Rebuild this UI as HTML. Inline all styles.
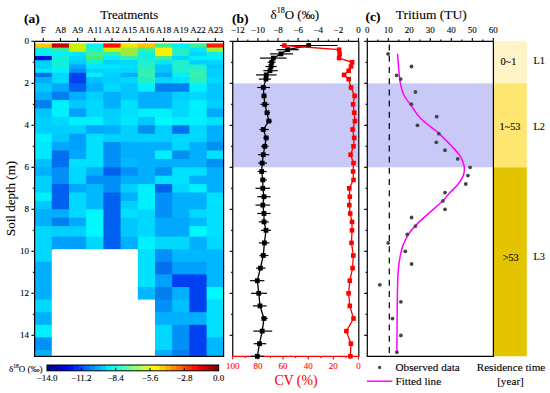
<!DOCTYPE html>
<html><head><meta charset="utf-8"><title>Figure</title>
<style>
html,body{margin:0;padding:0;background:#fff;}
body{width:550px;height:393px;overflow:hidden;font-family:"Liberation Serif",serif;}
svg{display:block;}
text{stroke-width:0.1px;stroke:#000;}
text[fill="#ff0000"]{stroke:#ff0000;}
</style></head>
<body>
<svg width="550" height="393" viewBox="0 0 550 393">
<rect x="0" y="0" width="550" height="393" fill="#fff"/>
<rect x="34.60" y="43.40" width="18.10" height="5.10" fill="#ffc800"/>
<rect x="34.60" y="47.60" width="18.10" height="5.10" fill="#10f0e0"/>
<rect x="34.60" y="51.80" width="18.10" height="5.10" fill="#00f0ff"/>
<rect x="34.60" y="56.00" width="18.10" height="5.10" fill="#0010e0"/>
<rect x="34.60" y="60.20" width="18.10" height="5.10" fill="#00d0ff"/>
<rect x="34.60" y="64.40" width="18.10" height="5.10" fill="#00d0ff"/>
<rect x="34.60" y="68.60" width="18.10" height="5.10" fill="#00e8ff"/>
<rect x="34.60" y="72.80" width="18.10" height="5.10" fill="#0070f0"/>
<rect x="34.60" y="77.00" width="18.10" height="7.20" fill="#00b0ff"/>
<rect x="34.60" y="83.30" width="18.10" height="9.30" fill="#00c8ff"/>
<rect x="34.60" y="91.70" width="18.10" height="9.30" fill="#00b0ff"/>
<rect x="34.60" y="100.10" width="18.10" height="9.30" fill="#0080f0"/>
<rect x="34.60" y="108.50" width="18.10" height="9.30" fill="#00c8ff"/>
<rect x="34.60" y="116.90" width="18.10" height="9.30" fill="#00d0ff"/>
<rect x="34.60" y="125.30" width="18.10" height="9.30" fill="#00d0ff"/>
<rect x="34.60" y="133.70" width="18.10" height="9.30" fill="#00f0ff"/>
<rect x="34.60" y="142.10" width="18.10" height="9.30" fill="#00e8ff"/>
<rect x="34.60" y="150.50" width="18.10" height="9.30" fill="#00e8ff"/>
<rect x="34.60" y="158.90" width="18.10" height="9.30" fill="#00c0ff"/>
<rect x="34.60" y="167.30" width="18.10" height="9.30" fill="#00b0ff"/>
<rect x="34.60" y="175.70" width="18.10" height="9.30" fill="#00d0ff"/>
<rect x="34.60" y="184.10" width="18.10" height="9.30" fill="#00d0ff"/>
<rect x="34.60" y="192.50" width="18.10" height="9.30" fill="#00f0ff"/>
<rect x="34.60" y="200.90" width="18.10" height="9.30" fill="#00c8ff"/>
<rect x="34.60" y="209.30" width="18.10" height="9.30" fill="#00b0ff"/>
<rect x="34.60" y="217.70" width="18.10" height="9.30" fill="#00b0ff"/>
<rect x="34.60" y="226.10" width="18.10" height="11.40" fill="#00d8ff"/>
<rect x="34.60" y="236.60" width="18.10" height="13.50" fill="#00d8ff"/>
<rect x="34.60" y="249.20" width="17.20" height="13.50" fill="#00d8ff"/>
<rect x="34.60" y="261.80" width="17.20" height="13.50" fill="#00b0ff"/>
<rect x="34.60" y="274.40" width="17.20" height="13.50" fill="#00b0ff"/>
<rect x="34.60" y="287.00" width="17.20" height="13.50" fill="#00b0ff"/>
<rect x="34.60" y="299.60" width="17.20" height="13.50" fill="#00d8ff"/>
<rect x="34.60" y="312.20" width="17.20" height="13.50" fill="#00b0ff"/>
<rect x="34.60" y="324.80" width="17.20" height="13.50" fill="#00f0ff"/>
<rect x="34.60" y="337.40" width="17.20" height="13.50" fill="#0090f8"/>
<rect x="34.60" y="350.00" width="17.20" height="5.88" fill="#00b0ff"/>
<rect x="51.80" y="43.40" width="18.10" height="5.10" fill="#c80000"/>
<rect x="51.80" y="47.60" width="18.10" height="5.10" fill="#30f0a0"/>
<rect x="51.80" y="51.80" width="18.10" height="5.10" fill="#00f0ff"/>
<rect x="51.80" y="56.00" width="18.10" height="5.10" fill="#10f0d8"/>
<rect x="51.80" y="60.20" width="18.10" height="5.10" fill="#10f0d8"/>
<rect x="51.80" y="64.40" width="18.10" height="5.10" fill="#10f0d8"/>
<rect x="51.80" y="68.60" width="18.10" height="5.10" fill="#00f0ff"/>
<rect x="51.80" y="72.80" width="18.10" height="5.10" fill="#00d8ff"/>
<rect x="51.80" y="77.00" width="18.10" height="7.20" fill="#00d8ff"/>
<rect x="51.80" y="83.30" width="18.10" height="9.30" fill="#00a8ff"/>
<rect x="51.80" y="91.70" width="18.10" height="9.30" fill="#0080f0"/>
<rect x="51.80" y="100.10" width="18.10" height="9.30" fill="#00f0ff"/>
<rect x="51.80" y="108.50" width="18.10" height="9.30" fill="#00f0ff"/>
<rect x="51.80" y="116.90" width="18.10" height="9.30" fill="#00d8ff"/>
<rect x="51.80" y="125.30" width="18.10" height="9.30" fill="#00d0ff"/>
<rect x="51.80" y="133.70" width="18.10" height="9.30" fill="#00c8ff"/>
<rect x="51.80" y="142.10" width="18.10" height="9.30" fill="#00a8ff"/>
<rect x="51.80" y="150.50" width="18.10" height="9.30" fill="#0070f0"/>
<rect x="51.80" y="158.90" width="18.10" height="9.30" fill="#0070f0"/>
<rect x="51.80" y="167.30" width="18.10" height="9.30" fill="#0090f8"/>
<rect x="51.80" y="175.70" width="18.10" height="9.30" fill="#0090f8"/>
<rect x="51.80" y="184.10" width="18.10" height="9.30" fill="#0060f0"/>
<rect x="51.80" y="192.50" width="18.10" height="9.30" fill="#0060f0"/>
<rect x="51.80" y="200.90" width="18.10" height="9.30" fill="#0060f0"/>
<rect x="51.80" y="209.30" width="18.10" height="9.30" fill="#00b0ff"/>
<rect x="51.80" y="217.70" width="18.10" height="9.30" fill="#0080f0"/>
<rect x="51.80" y="226.10" width="18.10" height="11.40" fill="#00d0ff"/>
<rect x="51.80" y="236.60" width="18.10" height="12.60" fill="#00a0ff"/>
<rect x="69.00" y="43.40" width="18.10" height="5.10" fill="#c8f000"/>
<rect x="69.00" y="47.60" width="18.10" height="5.10" fill="#c8f000"/>
<rect x="69.00" y="51.80" width="18.10" height="5.10" fill="#00e8ff"/>
<rect x="69.00" y="56.00" width="18.10" height="5.10" fill="#00d8ff"/>
<rect x="69.00" y="60.20" width="18.10" height="5.10" fill="#00d0ff"/>
<rect x="69.00" y="64.40" width="18.10" height="5.10" fill="#00a8ff"/>
<rect x="69.00" y="68.60" width="18.10" height="5.10" fill="#0090f8"/>
<rect x="69.00" y="72.80" width="18.10" height="5.10" fill="#0040f0"/>
<rect x="69.00" y="77.00" width="18.10" height="7.20" fill="#0040f0"/>
<rect x="69.00" y="83.30" width="18.10" height="9.30" fill="#0060f0"/>
<rect x="69.00" y="91.70" width="18.10" height="9.30" fill="#00b0ff"/>
<rect x="69.00" y="100.10" width="18.10" height="9.30" fill="#00c8ff"/>
<rect x="69.00" y="108.50" width="18.10" height="9.30" fill="#00a0ff"/>
<rect x="69.00" y="116.90" width="18.10" height="9.30" fill="#00f0ff"/>
<rect x="69.00" y="125.30" width="18.10" height="9.30" fill="#00d0ff"/>
<rect x="69.00" y="133.70" width="18.10" height="9.30" fill="#00a0ff"/>
<rect x="69.00" y="142.10" width="18.10" height="9.30" fill="#00a0ff"/>
<rect x="69.00" y="150.50" width="18.10" height="9.30" fill="#00a8ff"/>
<rect x="69.00" y="158.90" width="18.10" height="9.30" fill="#00e0ff"/>
<rect x="69.00" y="167.30" width="18.10" height="9.30" fill="#00d8ff"/>
<rect x="69.00" y="175.70" width="18.10" height="9.30" fill="#00d8ff"/>
<rect x="69.00" y="184.10" width="18.10" height="9.30" fill="#00a8ff"/>
<rect x="69.00" y="192.50" width="18.10" height="9.30" fill="#00d8ff"/>
<rect x="69.00" y="200.90" width="18.10" height="9.30" fill="#00d8ff"/>
<rect x="69.00" y="209.30" width="18.10" height="9.30" fill="#00d8ff"/>
<rect x="69.00" y="217.70" width="18.10" height="9.30" fill="#00a8ff"/>
<rect x="69.00" y="226.10" width="18.10" height="11.40" fill="#00d0ff"/>
<rect x="69.00" y="236.60" width="18.10" height="12.60" fill="#00a0ff"/>
<rect x="86.20" y="43.40" width="18.10" height="5.10" fill="#10f0f0"/>
<rect x="86.20" y="47.60" width="18.10" height="5.10" fill="#20f0d0"/>
<rect x="86.20" y="51.80" width="18.10" height="5.10" fill="#40f0a0"/>
<rect x="86.20" y="56.00" width="18.10" height="5.10" fill="#40f070"/>
<rect x="86.20" y="60.20" width="18.10" height="5.10" fill="#10f0d8"/>
<rect x="86.20" y="64.40" width="18.10" height="5.10" fill="#00e8ff"/>
<rect x="86.20" y="68.60" width="18.10" height="5.10" fill="#00d0ff"/>
<rect x="86.20" y="72.80" width="18.10" height="5.10" fill="#00f0ff"/>
<rect x="86.20" y="77.00" width="18.10" height="7.20" fill="#00c0ff"/>
<rect x="86.20" y="83.30" width="18.10" height="9.30" fill="#00b0ff"/>
<rect x="86.20" y="91.70" width="18.10" height="9.30" fill="#00d0ff"/>
<rect x="86.20" y="100.10" width="18.10" height="9.30" fill="#00d8ff"/>
<rect x="86.20" y="108.50" width="18.10" height="9.30" fill="#00d8ff"/>
<rect x="86.20" y="116.90" width="18.10" height="9.30" fill="#00f0ff"/>
<rect x="86.20" y="125.30" width="18.10" height="9.30" fill="#00a8ff"/>
<rect x="86.20" y="133.70" width="18.10" height="9.30" fill="#00e0ff"/>
<rect x="86.20" y="142.10" width="18.10" height="9.30" fill="#00e0ff"/>
<rect x="86.20" y="150.50" width="18.10" height="9.30" fill="#00e0ff"/>
<rect x="86.20" y="158.90" width="18.10" height="9.30" fill="#00e0ff"/>
<rect x="86.20" y="167.30" width="18.10" height="9.30" fill="#00b0ff"/>
<rect x="86.20" y="175.70" width="18.10" height="9.30" fill="#0090f8"/>
<rect x="86.20" y="184.10" width="18.10" height="9.30" fill="#00b8ff"/>
<rect x="86.20" y="192.50" width="18.10" height="9.30" fill="#00b8ff"/>
<rect x="86.20" y="200.90" width="18.10" height="9.30" fill="#00b8ff"/>
<rect x="86.20" y="209.30" width="18.10" height="9.30" fill="#00f8ff"/>
<rect x="86.20" y="217.70" width="18.10" height="9.30" fill="#00f8ff"/>
<rect x="86.20" y="226.10" width="18.10" height="11.40" fill="#00f8ff"/>
<rect x="86.20" y="236.60" width="18.10" height="12.60" fill="#00d8ff"/>
<rect x="103.40" y="43.40" width="18.10" height="5.10" fill="#ff1000"/>
<rect x="103.40" y="47.60" width="18.10" height="5.10" fill="#c8f000"/>
<rect x="103.40" y="51.80" width="18.10" height="5.10" fill="#30f0b0"/>
<rect x="103.40" y="56.00" width="18.10" height="5.10" fill="#00f0ff"/>
<rect x="103.40" y="60.20" width="18.10" height="5.10" fill="#00d0ff"/>
<rect x="103.40" y="64.40" width="18.10" height="5.10" fill="#00e8ff"/>
<rect x="103.40" y="68.60" width="18.10" height="5.10" fill="#00d8ff"/>
<rect x="103.40" y="72.80" width="18.10" height="5.10" fill="#00d0ff"/>
<rect x="103.40" y="77.00" width="18.10" height="7.20" fill="#00d0ff"/>
<rect x="103.40" y="83.30" width="18.10" height="9.30" fill="#00d8ff"/>
<rect x="103.40" y="91.70" width="18.10" height="9.30" fill="#00b0ff"/>
<rect x="103.40" y="100.10" width="18.10" height="9.30" fill="#00b0ff"/>
<rect x="103.40" y="108.50" width="18.10" height="9.30" fill="#00d0ff"/>
<rect x="103.40" y="116.90" width="18.10" height="9.30" fill="#00d0ff"/>
<rect x="103.40" y="125.30" width="18.10" height="9.30" fill="#00b0ff"/>
<rect x="103.40" y="133.70" width="18.10" height="9.30" fill="#00d0ff"/>
<rect x="103.40" y="142.10" width="18.10" height="9.30" fill="#0090f8"/>
<rect x="103.40" y="150.50" width="18.10" height="9.30" fill="#0090f8"/>
<rect x="103.40" y="158.90" width="18.10" height="9.30" fill="#0090f8"/>
<rect x="103.40" y="167.30" width="18.10" height="9.30" fill="#0060f0"/>
<rect x="103.40" y="175.70" width="18.10" height="9.30" fill="#0090f8"/>
<rect x="103.40" y="184.10" width="18.10" height="9.30" fill="#0090f8"/>
<rect x="103.40" y="192.50" width="18.10" height="9.30" fill="#0060f0"/>
<rect x="103.40" y="200.90" width="18.10" height="9.30" fill="#0060f0"/>
<rect x="103.40" y="209.30" width="18.10" height="9.30" fill="#0060f0"/>
<rect x="103.40" y="217.70" width="18.10" height="9.30" fill="#0060f0"/>
<rect x="103.40" y="226.10" width="18.10" height="11.40" fill="#0060f0"/>
<rect x="103.40" y="236.60" width="18.10" height="12.60" fill="#0060f0"/>
<rect x="120.60" y="43.40" width="18.10" height="5.10" fill="#f0e800"/>
<rect x="120.60" y="47.60" width="18.10" height="5.10" fill="#a0e840"/>
<rect x="120.60" y="51.80" width="18.10" height="5.10" fill="#a0e840"/>
<rect x="120.60" y="56.00" width="18.10" height="5.10" fill="#30f0b0"/>
<rect x="120.60" y="60.20" width="18.10" height="5.10" fill="#00d8ff"/>
<rect x="120.60" y="64.40" width="18.10" height="5.10" fill="#00e0ff"/>
<rect x="120.60" y="68.60" width="18.10" height="5.10" fill="#00d8ff"/>
<rect x="120.60" y="72.80" width="18.10" height="5.10" fill="#00b0ff"/>
<rect x="120.60" y="77.00" width="18.10" height="7.20" fill="#00d8ff"/>
<rect x="120.60" y="83.30" width="18.10" height="9.30" fill="#00c8ff"/>
<rect x="120.60" y="91.70" width="18.10" height="9.30" fill="#00c8ff"/>
<rect x="120.60" y="100.10" width="18.10" height="9.30" fill="#00e0ff"/>
<rect x="120.60" y="108.50" width="18.10" height="9.30" fill="#00e0ff"/>
<rect x="120.60" y="116.90" width="18.10" height="9.30" fill="#00e8ff"/>
<rect x="120.60" y="125.30" width="18.10" height="9.30" fill="#00d0ff"/>
<rect x="120.60" y="133.70" width="18.10" height="9.30" fill="#00d0ff"/>
<rect x="120.60" y="142.10" width="18.10" height="9.30" fill="#00b0ff"/>
<rect x="120.60" y="150.50" width="18.10" height="9.30" fill="#00b0ff"/>
<rect x="120.60" y="158.90" width="18.10" height="9.30" fill="#00b8ff"/>
<rect x="120.60" y="167.30" width="18.10" height="9.30" fill="#0090f8"/>
<rect x="120.60" y="175.70" width="18.10" height="9.30" fill="#00b0ff"/>
<rect x="120.60" y="184.10" width="18.10" height="9.30" fill="#00d0ff"/>
<rect x="120.60" y="192.50" width="18.10" height="9.30" fill="#00b0ff"/>
<rect x="120.60" y="200.90" width="18.10" height="9.30" fill="#00d0ff"/>
<rect x="120.60" y="209.30" width="18.10" height="9.30" fill="#00e0ff"/>
<rect x="120.60" y="217.70" width="18.10" height="9.30" fill="#00c8ff"/>
<rect x="120.60" y="226.10" width="18.10" height="11.40" fill="#00c8ff"/>
<rect x="120.60" y="236.60" width="18.10" height="12.60" fill="#00b0ff"/>
<rect x="137.80" y="43.40" width="18.10" height="5.10" fill="#ffc000"/>
<rect x="137.80" y="47.60" width="18.10" height="5.10" fill="#40f090"/>
<rect x="137.80" y="51.80" width="18.10" height="5.10" fill="#10f0e0"/>
<rect x="137.80" y="56.00" width="18.10" height="5.10" fill="#10f0e0"/>
<rect x="137.80" y="60.20" width="18.10" height="5.10" fill="#20f0d0"/>
<rect x="137.80" y="64.40" width="18.10" height="5.10" fill="#28f0c0"/>
<rect x="137.80" y="68.60" width="18.10" height="5.10" fill="#30f0b8"/>
<rect x="137.80" y="72.80" width="18.10" height="5.10" fill="#38f0a8"/>
<rect x="137.80" y="77.00" width="18.10" height="7.20" fill="#20f0c8"/>
<rect x="137.80" y="83.30" width="18.10" height="9.30" fill="#00f0ff"/>
<rect x="137.80" y="91.70" width="18.10" height="9.30" fill="#00b0ff"/>
<rect x="137.80" y="100.10" width="18.10" height="9.30" fill="#00b0ff"/>
<rect x="137.80" y="108.50" width="18.10" height="9.30" fill="#00f0ff"/>
<rect x="137.80" y="116.90" width="18.10" height="9.30" fill="#00c8ff"/>
<rect x="137.80" y="125.30" width="18.10" height="9.30" fill="#0090f0"/>
<rect x="137.80" y="133.70" width="18.10" height="9.30" fill="#00d0ff"/>
<rect x="137.80" y="142.10" width="18.10" height="9.30" fill="#00b0ff"/>
<rect x="137.80" y="150.50" width="18.10" height="9.30" fill="#00b0ff"/>
<rect x="137.80" y="158.90" width="18.10" height="9.30" fill="#00b0ff"/>
<rect x="137.80" y="167.30" width="18.10" height="9.30" fill="#00b0ff"/>
<rect x="137.80" y="175.70" width="18.10" height="9.30" fill="#00b0ff"/>
<rect x="137.80" y="184.10" width="18.10" height="9.30" fill="#00f0ff"/>
<rect x="137.80" y="192.50" width="18.10" height="9.30" fill="#00f0ff"/>
<rect x="137.80" y="200.90" width="18.10" height="9.30" fill="#00f0ff"/>
<rect x="137.80" y="209.30" width="18.10" height="9.30" fill="#00d8ff"/>
<rect x="137.80" y="217.70" width="18.10" height="9.30" fill="#00d8ff"/>
<rect x="137.80" y="226.10" width="18.10" height="11.40" fill="#00d8ff"/>
<rect x="137.80" y="236.60" width="18.10" height="13.50" fill="#00f0ff"/>
<rect x="137.80" y="249.20" width="18.10" height="13.50" fill="#00e0ff"/>
<rect x="137.80" y="261.80" width="18.10" height="13.50" fill="#00e0ff"/>
<rect x="137.80" y="274.40" width="18.10" height="13.50" fill="#00e0ff"/>
<rect x="137.80" y="287.00" width="18.10" height="12.60" fill="#00b8ff"/>
<rect x="155.00" y="43.40" width="18.10" height="5.10" fill="#40f080"/>
<rect x="155.00" y="47.60" width="18.10" height="5.10" fill="#ffee00"/>
<rect x="155.00" y="51.80" width="18.10" height="5.10" fill="#ffee00"/>
<rect x="155.00" y="56.00" width="18.10" height="5.10" fill="#40f090"/>
<rect x="155.00" y="60.20" width="18.10" height="5.10" fill="#00e8ff"/>
<rect x="155.00" y="64.40" width="18.10" height="5.10" fill="#00c8ff"/>
<rect x="155.00" y="68.60" width="18.10" height="5.10" fill="#00c8ff"/>
<rect x="155.00" y="72.80" width="18.10" height="5.10" fill="#00a8ff"/>
<rect x="155.00" y="77.00" width="18.10" height="7.20" fill="#00d8ff"/>
<rect x="155.00" y="83.30" width="18.10" height="9.30" fill="#0080f0"/>
<rect x="155.00" y="91.70" width="18.10" height="9.30" fill="#00b0ff"/>
<rect x="155.00" y="100.10" width="18.10" height="9.30" fill="#00b0ff"/>
<rect x="155.00" y="108.50" width="18.10" height="9.30" fill="#00f0ff"/>
<rect x="155.00" y="116.90" width="18.10" height="9.30" fill="#00f8ff"/>
<rect x="155.00" y="125.30" width="18.10" height="9.30" fill="#00d0ff"/>
<rect x="155.00" y="133.70" width="18.10" height="9.30" fill="#00d0ff"/>
<rect x="155.00" y="142.10" width="18.10" height="9.30" fill="#00b0ff"/>
<rect x="155.00" y="150.50" width="18.10" height="9.30" fill="#00f0ff"/>
<rect x="155.00" y="158.90" width="18.10" height="9.30" fill="#00b0ff"/>
<rect x="155.00" y="167.30" width="18.10" height="9.30" fill="#0090f8"/>
<rect x="155.00" y="175.70" width="18.10" height="9.30" fill="#00e0ff"/>
<rect x="155.00" y="184.10" width="18.10" height="9.30" fill="#0060f0"/>
<rect x="155.00" y="192.50" width="18.10" height="9.30" fill="#0090f8"/>
<rect x="155.00" y="200.90" width="18.10" height="9.30" fill="#0090f8"/>
<rect x="155.00" y="209.30" width="18.10" height="9.30" fill="#0090f8"/>
<rect x="155.00" y="217.70" width="18.10" height="9.30" fill="#00a8ff"/>
<rect x="155.00" y="226.10" width="18.10" height="11.40" fill="#00a8ff"/>
<rect x="155.00" y="236.60" width="18.10" height="13.50" fill="#00d8ff"/>
<rect x="155.00" y="249.20" width="18.10" height="13.50" fill="#0090f8"/>
<rect x="155.00" y="261.80" width="18.10" height="13.50" fill="#0070f0"/>
<rect x="155.00" y="274.40" width="18.10" height="13.50" fill="#00a0ff"/>
<rect x="155.00" y="287.00" width="18.10" height="13.50" fill="#0080f0"/>
<rect x="155.00" y="299.60" width="18.10" height="13.50" fill="#0090f8"/>
<rect x="155.00" y="312.20" width="18.10" height="13.50" fill="#00b0ff"/>
<rect x="155.00" y="324.80" width="18.10" height="13.50" fill="#00d8ff"/>
<rect x="155.00" y="337.40" width="18.10" height="13.50" fill="#00d8ff"/>
<rect x="155.00" y="350.00" width="18.10" height="5.88" fill="#00b0ff"/>
<rect x="172.20" y="43.40" width="18.10" height="5.10" fill="#00f0ff"/>
<rect x="172.20" y="47.60" width="18.10" height="5.10" fill="#20f0c8"/>
<rect x="172.20" y="51.80" width="18.10" height="5.10" fill="#20f0c8"/>
<rect x="172.20" y="56.00" width="18.10" height="5.10" fill="#00d8ff"/>
<rect x="172.20" y="60.20" width="18.10" height="5.10" fill="#20f0d0"/>
<rect x="172.20" y="64.40" width="18.10" height="5.10" fill="#20f0d0"/>
<rect x="172.20" y="68.60" width="18.10" height="5.10" fill="#20f0d0"/>
<rect x="172.20" y="72.80" width="18.10" height="5.10" fill="#00f0ff"/>
<rect x="172.20" y="77.00" width="18.10" height="7.20" fill="#00e0ff"/>
<rect x="172.20" y="83.30" width="18.10" height="9.30" fill="#0080f0"/>
<rect x="172.20" y="91.70" width="18.10" height="9.30" fill="#00d0ff"/>
<rect x="172.20" y="100.10" width="18.10" height="9.30" fill="#00d8ff"/>
<rect x="172.20" y="108.50" width="18.10" height="9.30" fill="#00d8ff"/>
<rect x="172.20" y="116.90" width="18.10" height="9.30" fill="#00f0ff"/>
<rect x="172.20" y="125.30" width="18.10" height="9.30" fill="#0070f0"/>
<rect x="172.20" y="133.70" width="18.10" height="9.30" fill="#00d8ff"/>
<rect x="172.20" y="142.10" width="18.10" height="9.30" fill="#00d8ff"/>
<rect x="172.20" y="150.50" width="18.10" height="9.30" fill="#0090f0"/>
<rect x="172.20" y="158.90" width="18.10" height="9.30" fill="#00b0ff"/>
<rect x="172.20" y="167.30" width="18.10" height="9.30" fill="#00e0ff"/>
<rect x="172.20" y="175.70" width="18.10" height="9.30" fill="#00e0ff"/>
<rect x="172.20" y="184.10" width="18.10" height="9.30" fill="#00d8ff"/>
<rect x="172.20" y="192.50" width="18.10" height="9.30" fill="#00b0ff"/>
<rect x="172.20" y="200.90" width="18.10" height="9.30" fill="#00b0ff"/>
<rect x="172.20" y="209.30" width="18.10" height="9.30" fill="#00b0ff"/>
<rect x="172.20" y="217.70" width="18.10" height="9.30" fill="#00a8ff"/>
<rect x="172.20" y="226.10" width="18.10" height="11.40" fill="#00a8ff"/>
<rect x="172.20" y="236.60" width="18.10" height="13.50" fill="#00d8ff"/>
<rect x="172.20" y="249.20" width="18.10" height="13.50" fill="#00b8ff"/>
<rect x="172.20" y="261.80" width="18.10" height="13.50" fill="#00a0ff"/>
<rect x="172.20" y="274.40" width="18.10" height="13.50" fill="#0040f0"/>
<rect x="172.20" y="287.00" width="18.10" height="13.50" fill="#00b0ff"/>
<rect x="172.20" y="299.60" width="18.10" height="13.50" fill="#00c0ff"/>
<rect x="172.20" y="312.20" width="18.10" height="13.50" fill="#00b0ff"/>
<rect x="172.20" y="324.80" width="18.10" height="13.50" fill="#0090f8"/>
<rect x="172.20" y="337.40" width="18.10" height="13.50" fill="#0090f8"/>
<rect x="172.20" y="350.00" width="18.10" height="5.88" fill="#0080f0"/>
<rect x="189.40" y="43.40" width="18.10" height="5.10" fill="#40f090"/>
<rect x="189.40" y="47.60" width="18.10" height="5.10" fill="#00e8ff"/>
<rect x="189.40" y="51.80" width="18.10" height="5.10" fill="#00d8ff"/>
<rect x="189.40" y="56.00" width="18.10" height="5.10" fill="#00f0ff"/>
<rect x="189.40" y="60.20" width="18.10" height="5.10" fill="#00d0ff"/>
<rect x="189.40" y="64.40" width="18.10" height="5.10" fill="#20f0d0"/>
<rect x="189.40" y="68.60" width="18.10" height="5.10" fill="#30f0b8"/>
<rect x="189.40" y="72.80" width="18.10" height="5.10" fill="#40f0a0"/>
<rect x="189.40" y="77.00" width="18.10" height="7.20" fill="#28f0c0"/>
<rect x="189.40" y="83.30" width="18.10" height="9.30" fill="#00f0ff"/>
<rect x="189.40" y="91.70" width="18.10" height="9.30" fill="#00d8ff"/>
<rect x="189.40" y="100.10" width="18.10" height="9.30" fill="#00f0ff"/>
<rect x="189.40" y="108.50" width="18.10" height="9.30" fill="#00f0ff"/>
<rect x="189.40" y="116.90" width="18.10" height="9.30" fill="#00f0ff"/>
<rect x="189.40" y="125.30" width="18.10" height="9.30" fill="#00d8ff"/>
<rect x="189.40" y="133.70" width="18.10" height="9.30" fill="#00d8ff"/>
<rect x="189.40" y="142.10" width="18.10" height="9.30" fill="#00b0ff"/>
<rect x="189.40" y="150.50" width="18.10" height="9.30" fill="#00b0ff"/>
<rect x="189.40" y="158.90" width="18.10" height="9.30" fill="#00b0ff"/>
<rect x="189.40" y="167.30" width="18.10" height="9.30" fill="#00e0ff"/>
<rect x="189.40" y="175.70" width="18.10" height="9.30" fill="#00b0ff"/>
<rect x="189.40" y="184.10" width="18.10" height="9.30" fill="#00f0ff"/>
<rect x="189.40" y="192.50" width="18.10" height="9.30" fill="#00b0ff"/>
<rect x="189.40" y="200.90" width="18.10" height="9.30" fill="#00b0ff"/>
<rect x="189.40" y="209.30" width="18.10" height="9.30" fill="#00d8ff"/>
<rect x="189.40" y="217.70" width="18.10" height="9.30" fill="#00b8ff"/>
<rect x="189.40" y="226.10" width="18.10" height="11.40" fill="#00f8ff"/>
<rect x="189.40" y="236.60" width="18.10" height="13.50" fill="#00b0ff"/>
<rect x="189.40" y="249.20" width="18.10" height="13.50" fill="#00b8ff"/>
<rect x="189.40" y="261.80" width="18.10" height="13.50" fill="#00a0ff"/>
<rect x="189.40" y="274.40" width="18.10" height="13.50" fill="#0040f0"/>
<rect x="189.40" y="287.00" width="18.10" height="13.50" fill="#0040f0"/>
<rect x="189.40" y="299.60" width="18.10" height="13.50" fill="#0040f0"/>
<rect x="189.40" y="312.20" width="18.10" height="13.50" fill="#00b0ff"/>
<rect x="189.40" y="324.80" width="18.10" height="13.50" fill="#0040f0"/>
<rect x="189.40" y="337.40" width="18.10" height="13.50" fill="#0040f0"/>
<rect x="189.40" y="350.00" width="18.10" height="5.88" fill="#0040f0"/>
<rect x="206.60" y="43.40" width="17.20" height="5.10" fill="#ff2000"/>
<rect x="206.60" y="47.60" width="17.20" height="5.10" fill="#a0f040"/>
<rect x="206.60" y="51.80" width="17.20" height="5.10" fill="#10f0e0"/>
<rect x="206.60" y="56.00" width="17.20" height="5.10" fill="#00f0ff"/>
<rect x="206.60" y="60.20" width="17.20" height="5.10" fill="#00d8ff"/>
<rect x="206.60" y="64.40" width="17.20" height="5.10" fill="#00c8ff"/>
<rect x="206.60" y="68.60" width="17.20" height="5.10" fill="#00d0ff"/>
<rect x="206.60" y="72.80" width="17.20" height="5.10" fill="#00d0ff"/>
<rect x="206.60" y="77.00" width="17.20" height="7.20" fill="#00d8ff"/>
<rect x="206.60" y="83.30" width="17.20" height="9.30" fill="#00c8ff"/>
<rect x="206.60" y="91.70" width="17.20" height="9.30" fill="#00c8ff"/>
<rect x="206.60" y="100.10" width="17.20" height="9.30" fill="#00d0ff"/>
<rect x="206.60" y="108.50" width="17.20" height="9.30" fill="#00a8ff"/>
<rect x="206.60" y="116.90" width="17.20" height="9.30" fill="#00e0ff"/>
<rect x="206.60" y="125.30" width="17.20" height="9.30" fill="#00b0ff"/>
<rect x="206.60" y="133.70" width="17.20" height="9.30" fill="#00b0ff"/>
<rect x="206.60" y="142.10" width="17.20" height="9.30" fill="#0090f0"/>
<rect x="206.60" y="150.50" width="17.20" height="9.30" fill="#00e0ff"/>
<rect x="206.60" y="158.90" width="17.20" height="9.30" fill="#0090f0"/>
<rect x="206.60" y="167.30" width="17.20" height="9.30" fill="#00b0ff"/>
<rect x="206.60" y="175.70" width="17.20" height="9.30" fill="#00b0ff"/>
<rect x="206.60" y="184.10" width="17.20" height="9.30" fill="#00b0ff"/>
<rect x="206.60" y="192.50" width="17.20" height="9.30" fill="#00e0ff"/>
<rect x="206.60" y="200.90" width="17.20" height="9.30" fill="#00e0ff"/>
<rect x="206.60" y="209.30" width="17.20" height="9.30" fill="#00e0ff"/>
<rect x="206.60" y="217.70" width="17.20" height="9.30" fill="#00e0ff"/>
<rect x="206.60" y="226.10" width="17.20" height="11.40" fill="#00e0ff"/>
<rect x="206.60" y="236.60" width="17.20" height="13.50" fill="#00d8ff"/>
<rect x="206.60" y="249.20" width="17.20" height="13.50" fill="#00b8ff"/>
<rect x="206.60" y="261.80" width="17.20" height="13.50" fill="#00b8ff"/>
<rect x="206.60" y="274.40" width="17.20" height="13.50" fill="#00b8ff"/>
<rect x="206.60" y="287.00" width="17.20" height="13.50" fill="#00f8ff"/>
<rect x="206.60" y="299.60" width="17.20" height="13.50" fill="#00e0ff"/>
<rect x="206.60" y="312.20" width="17.20" height="13.50" fill="#00e0ff"/>
<rect x="206.60" y="324.80" width="17.20" height="13.50" fill="#00e0ff"/>
<rect x="206.60" y="337.40" width="17.20" height="13.50" fill="#00b8ff"/>
<rect x="206.60" y="350.00" width="17.20" height="5.88" fill="#00b8ff"/>
<rect x="232.75" y="83.30" width="125.85" height="84.00" fill="#c9c9f8"/>
<rect x="367.3" y="83.30" width="126.10" height="84.00" fill="#c9c9f8"/>
<rect x="494.0" y="41.30" width="32.80" height="42.00" fill="#fff4c6"/>
<rect x="494.0" y="83.30" width="32.80" height="84.00" fill="#ffe670"/>
<rect x="494.0" y="167.30" width="32.80" height="189.00" fill="#e4c400"/>
<path d="M34.6,41.3 H223.6 M34.6,41.3 V356.3 M223.6,41.3 V356.3" stroke="#000" stroke-width="1.2" fill="none"/>
<path d="M34.0,356.3 H224.2" stroke="#000" stroke-width="1.2" fill="none"/>
<path d="M232.75,41.3 H358.8 M232.75,41.3 V356.3 M358.8,41.3 V356.3" stroke="#000" stroke-width="1.2" fill="none"/>
<path d="M232.15,356.3 H359.40000000000003" stroke="#ff0000" stroke-width="1.2" fill="none"/>
<path d="M367.3,41.3 H493.4 M367.3,41.3 V356.3 M493.4,41.3 V356.3" stroke="#000" stroke-width="1.2" fill="none"/>
<path d="M366.7,356.3 H494.0" stroke="#000" stroke-width="1.2" fill="none"/>
<path d="M31.40,41.30 H34.6" stroke="#000" stroke-width="1.1"/>
<path d="M32.80,62.30 H34.6" stroke="#000" stroke-width="1.1"/>
<path d="M31.40,83.30 H34.6" stroke="#000" stroke-width="1.1"/>
<path d="M32.80,104.30 H34.6" stroke="#000" stroke-width="1.1"/>
<path d="M31.40,125.30 H34.6" stroke="#000" stroke-width="1.1"/>
<path d="M32.80,146.30 H34.6" stroke="#000" stroke-width="1.1"/>
<path d="M31.40,167.30 H34.6" stroke="#000" stroke-width="1.1"/>
<path d="M32.80,188.30 H34.6" stroke="#000" stroke-width="1.1"/>
<path d="M31.40,209.30 H34.6" stroke="#000" stroke-width="1.1"/>
<path d="M32.80,230.30 H34.6" stroke="#000" stroke-width="1.1"/>
<path d="M31.40,251.30 H34.6" stroke="#000" stroke-width="1.1"/>
<path d="M32.80,272.30 H34.6" stroke="#000" stroke-width="1.1"/>
<path d="M31.40,293.30 H34.6" stroke="#000" stroke-width="1.1"/>
<path d="M32.80,314.30 H34.6" stroke="#000" stroke-width="1.1"/>
<path d="M31.40,335.30 H34.6" stroke="#000" stroke-width="1.1"/>
<path d="M229.55,41.30 H232.75" stroke="#000" stroke-width="1.1"/>
<path d="M230.95,62.30 H232.75" stroke="#000" stroke-width="1.1"/>
<path d="M229.55,83.30 H232.75" stroke="#000" stroke-width="1.1"/>
<path d="M230.95,104.30 H232.75" stroke="#000" stroke-width="1.1"/>
<path d="M229.55,125.30 H232.75" stroke="#000" stroke-width="1.1"/>
<path d="M230.95,146.30 H232.75" stroke="#000" stroke-width="1.1"/>
<path d="M229.55,167.30 H232.75" stroke="#000" stroke-width="1.1"/>
<path d="M230.95,188.30 H232.75" stroke="#000" stroke-width="1.1"/>
<path d="M229.55,209.30 H232.75" stroke="#000" stroke-width="1.1"/>
<path d="M230.95,230.30 H232.75" stroke="#000" stroke-width="1.1"/>
<path d="M229.55,251.30 H232.75" stroke="#000" stroke-width="1.1"/>
<path d="M230.95,272.30 H232.75" stroke="#000" stroke-width="1.1"/>
<path d="M229.55,293.30 H232.75" stroke="#000" stroke-width="1.1"/>
<path d="M230.95,314.30 H232.75" stroke="#000" stroke-width="1.1"/>
<path d="M229.55,335.30 H232.75" stroke="#000" stroke-width="1.1"/>
<path d="M364.10,41.30 H367.3" stroke="#000" stroke-width="1.1"/>
<path d="M365.50,62.30 H367.3" stroke="#000" stroke-width="1.1"/>
<path d="M364.10,83.30 H367.3" stroke="#000" stroke-width="1.1"/>
<path d="M365.50,104.30 H367.3" stroke="#000" stroke-width="1.1"/>
<path d="M364.10,125.30 H367.3" stroke="#000" stroke-width="1.1"/>
<path d="M365.50,146.30 H367.3" stroke="#000" stroke-width="1.1"/>
<path d="M364.10,167.30 H367.3" stroke="#000" stroke-width="1.1"/>
<path d="M365.50,188.30 H367.3" stroke="#000" stroke-width="1.1"/>
<path d="M364.10,209.30 H367.3" stroke="#000" stroke-width="1.1"/>
<path d="M365.50,230.30 H367.3" stroke="#000" stroke-width="1.1"/>
<path d="M364.10,251.30 H367.3" stroke="#000" stroke-width="1.1"/>
<path d="M365.50,272.30 H367.3" stroke="#000" stroke-width="1.1"/>
<path d="M364.10,293.30 H367.3" stroke="#000" stroke-width="1.1"/>
<path d="M365.50,314.30 H367.3" stroke="#000" stroke-width="1.1"/>
<path d="M364.10,335.30 H367.3" stroke="#000" stroke-width="1.1"/>
<text x="29" y="44.40" font-family="Liberation Serif" font-size="9" text-anchor="end" fill="#000">0</text>
<text x="29" y="86.40" font-family="Liberation Serif" font-size="9" text-anchor="end" fill="#000">2</text>
<text x="29" y="128.40" font-family="Liberation Serif" font-size="9" text-anchor="end" fill="#000">4</text>
<text x="29" y="170.40" font-family="Liberation Serif" font-size="9" text-anchor="end" fill="#000">6</text>
<text x="29" y="212.40" font-family="Liberation Serif" font-size="9" text-anchor="end" fill="#000">8</text>
<text x="29" y="254.40" font-family="Liberation Serif" font-size="9" text-anchor="end" fill="#000">10</text>
<text x="29" y="296.40" font-family="Liberation Serif" font-size="9" text-anchor="end" fill="#000">12</text>
<text x="29" y="338.40" font-family="Liberation Serif" font-size="9" text-anchor="end" fill="#000">14</text>
<path d="M43.20,41.3 V38.0" stroke="#000" stroke-width="1.1"/>
<text x="43.20" y="33.1" font-family="Liberation Serif" font-size="9" text-anchor="middle" fill="#000">F</text>
<path d="M60.40,41.3 V38.0" stroke="#000" stroke-width="1.1"/>
<text x="60.40" y="33.1" font-family="Liberation Serif" font-size="9" text-anchor="middle" fill="#000">A8</text>
<path d="M77.60,41.3 V38.0" stroke="#000" stroke-width="1.1"/>
<text x="77.60" y="33.1" font-family="Liberation Serif" font-size="9" text-anchor="middle" fill="#000">A9</text>
<path d="M94.80,41.3 V38.0" stroke="#000" stroke-width="1.1"/>
<text x="94.80" y="33.1" font-family="Liberation Serif" font-size="9" text-anchor="middle" fill="#000">A11</text>
<path d="M112.00,41.3 V38.0" stroke="#000" stroke-width="1.1"/>
<text x="112.00" y="33.1" font-family="Liberation Serif" font-size="9" text-anchor="middle" fill="#000">A12</text>
<path d="M129.20,41.3 V38.0" stroke="#000" stroke-width="1.1"/>
<text x="129.20" y="33.1" font-family="Liberation Serif" font-size="9" text-anchor="middle" fill="#000">A15</text>
<path d="M146.40,41.3 V38.0" stroke="#000" stroke-width="1.1"/>
<text x="146.40" y="33.1" font-family="Liberation Serif" font-size="9" text-anchor="middle" fill="#000">A16</text>
<path d="M163.60,41.3 V38.0" stroke="#000" stroke-width="1.1"/>
<text x="163.60" y="33.1" font-family="Liberation Serif" font-size="9" text-anchor="middle" fill="#000">A18</text>
<path d="M180.80,41.3 V38.0" stroke="#000" stroke-width="1.1"/>
<text x="180.80" y="33.1" font-family="Liberation Serif" font-size="9" text-anchor="middle" fill="#000">A19</text>
<path d="M198.00,41.3 V38.0" stroke="#000" stroke-width="1.1"/>
<text x="198.00" y="33.1" font-family="Liberation Serif" font-size="9" text-anchor="middle" fill="#000">A22</text>
<path d="M215.20,41.3 V38.0" stroke="#000" stroke-width="1.1"/>
<text x="215.20" y="33.1" font-family="Liberation Serif" font-size="9" text-anchor="middle" fill="#000">A23</text>
<path d="M237.78,41.3 V38.0" stroke="#000" stroke-width="1.1"/>
<text x="237.78" y="32.6" font-family="Liberation Serif" font-size="9" text-anchor="middle" fill="#000">−12</text>
<path d="M247.84,41.3 V39.599999999999994" stroke="#000" stroke-width="1.1"/>
<path d="M257.90,41.3 V38.0" stroke="#000" stroke-width="1.1"/>
<text x="257.90" y="32.6" font-family="Liberation Serif" font-size="9" text-anchor="middle" fill="#000">−10</text>
<path d="M267.96,41.3 V39.599999999999994" stroke="#000" stroke-width="1.1"/>
<path d="M278.02,41.3 V38.0" stroke="#000" stroke-width="1.1"/>
<text x="278.02" y="32.6" font-family="Liberation Serif" font-size="9" text-anchor="middle" fill="#000">−8</text>
<path d="M288.08,41.3 V39.599999999999994" stroke="#000" stroke-width="1.1"/>
<path d="M298.14,41.3 V38.0" stroke="#000" stroke-width="1.1"/>
<text x="298.14" y="32.6" font-family="Liberation Serif" font-size="9" text-anchor="middle" fill="#000">−6</text>
<path d="M308.20,41.3 V39.599999999999994" stroke="#000" stroke-width="1.1"/>
<path d="M318.26,41.3 V38.0" stroke="#000" stroke-width="1.1"/>
<text x="318.26" y="32.6" font-family="Liberation Serif" font-size="9" text-anchor="middle" fill="#000">−4</text>
<path d="M328.32,41.3 V39.599999999999994" stroke="#000" stroke-width="1.1"/>
<path d="M338.38,41.3 V38.0" stroke="#000" stroke-width="1.1"/>
<text x="338.38" y="32.6" font-family="Liberation Serif" font-size="9" text-anchor="middle" fill="#000">−2</text>
<path d="M348.44,41.3 V39.599999999999994" stroke="#000" stroke-width="1.1"/>
<path d="M358.50,41.3 V38.0" stroke="#000" stroke-width="1.1"/>
<text x="358.50" y="32.6" font-family="Liberation Serif" font-size="9" text-anchor="middle" fill="#000">0</text>
<path d="M358.50,356.3 V359.6" stroke="#ff0000" stroke-width="1.1"/>
<text x="358.50" y="369" font-family="Liberation Serif" font-size="9" text-anchor="middle" fill="#ff0000">0</text>
<path d="M345.93,356.3 V358.0" stroke="#ff0000" stroke-width="1.1"/>
<path d="M333.35,356.3 V359.6" stroke="#ff0000" stroke-width="1.1"/>
<text x="333.35" y="369" font-family="Liberation Serif" font-size="9" text-anchor="middle" fill="#ff0000">20</text>
<path d="M320.77,356.3 V358.0" stroke="#ff0000" stroke-width="1.1"/>
<path d="M308.20,356.3 V359.6" stroke="#ff0000" stroke-width="1.1"/>
<text x="308.20" y="369" font-family="Liberation Serif" font-size="9" text-anchor="middle" fill="#ff0000">40</text>
<path d="M295.62,356.3 V358.0" stroke="#ff0000" stroke-width="1.1"/>
<path d="M283.05,356.3 V359.6" stroke="#ff0000" stroke-width="1.1"/>
<text x="283.05" y="369" font-family="Liberation Serif" font-size="9" text-anchor="middle" fill="#ff0000">60</text>
<path d="M270.48,356.3 V358.0" stroke="#ff0000" stroke-width="1.1"/>
<path d="M257.90,356.3 V359.6" stroke="#ff0000" stroke-width="1.1"/>
<text x="257.90" y="369" font-family="Liberation Serif" font-size="9" text-anchor="middle" fill="#ff0000">80</text>
<path d="M245.32,356.3 V358.0" stroke="#ff0000" stroke-width="1.1"/>
<path d="M232.75,356.3 V359.6" stroke="#ff0000" stroke-width="1.1"/>
<text x="232.75" y="369" font-family="Liberation Serif" font-size="9" text-anchor="middle" fill="#ff0000">100</text>
<path d="M367.30,41.3 V38.0" stroke="#000" stroke-width="1.1"/>
<text x="367.30" y="32.6" font-family="Liberation Serif" font-size="9" text-anchor="middle" fill="#000">0</text>
<path d="M377.80,41.3 V39.599999999999994" stroke="#000" stroke-width="1.1"/>
<path d="M388.30,41.3 V38.0" stroke="#000" stroke-width="1.1"/>
<text x="388.30" y="32.6" font-family="Liberation Serif" font-size="9" text-anchor="middle" fill="#000">10</text>
<path d="M398.80,41.3 V39.599999999999994" stroke="#000" stroke-width="1.1"/>
<path d="M409.30,41.3 V38.0" stroke="#000" stroke-width="1.1"/>
<text x="409.30" y="32.6" font-family="Liberation Serif" font-size="9" text-anchor="middle" fill="#000">20</text>
<path d="M419.80,41.3 V39.599999999999994" stroke="#000" stroke-width="1.1"/>
<path d="M430.30,41.3 V38.0" stroke="#000" stroke-width="1.1"/>
<text x="430.30" y="32.6" font-family="Liberation Serif" font-size="9" text-anchor="middle" fill="#000">30</text>
<path d="M440.80,41.3 V39.599999999999994" stroke="#000" stroke-width="1.1"/>
<path d="M451.30,41.3 V38.0" stroke="#000" stroke-width="1.1"/>
<text x="451.30" y="32.6" font-family="Liberation Serif" font-size="9" text-anchor="middle" fill="#000">40</text>
<path d="M461.80,41.3 V39.599999999999994" stroke="#000" stroke-width="1.1"/>
<path d="M472.30,41.3 V38.0" stroke="#000" stroke-width="1.1"/>
<text x="472.30" y="32.6" font-family="Liberation Serif" font-size="9" text-anchor="middle" fill="#000">50</text>
<path d="M482.80,41.3 V39.599999999999994" stroke="#000" stroke-width="1.1"/>
<path d="M493.30,41.3 V38.0" stroke="#000" stroke-width="1.1"/>
<text x="493.30" y="32.6" font-family="Liberation Serif" font-size="9" text-anchor="middle" fill="#000">60</text>
<text x="24.1" y="22.6" font-family="Liberation Serif" font-size="13.5" font-weight="bold" fill="#000">(a)</text>
<text x="231.9" y="22.9" font-family="Liberation Serif" font-size="13.5" font-weight="bold" fill="#000">(b)</text>
<text x="365.5" y="21.4" font-family="Liberation Serif" font-size="13.5" font-weight="bold" fill="#000">(c)</text>
<text x="100.2" y="19.1" font-family="Liberation Serif" font-size="13" fill="#000">Treatments</text>
<text x="270.6" y="19.0" font-family="Liberation Serif" font-size="13" fill="#000">δ<tspan font-size="8" dy="-5.8">18</tspan><tspan dy="5.8">O (‰)</tspan></text>
<text x="395.7" y="18.9" font-family="Liberation Serif" font-size="13.5" fill="#000">Tritium (TU)</text>
<text x="296" y="385.3" font-family="Liberation Serif" font-size="13.8" text-anchor="middle" fill="#ff0000">CV (%)</text>
<text transform="translate(15.3,236) rotate(-90)" x="0" y="0" font-family="Liberation Serif" font-size="13" fill="#000">Soil depth (m)</text>
<rect x="47.00" y="365.0" width="6.27" height="5.800000000000011" fill="#00008f"/>
<rect x="52.37" y="365.0" width="6.27" height="5.800000000000011" fill="#0000af"/>
<rect x="57.73" y="365.0" width="6.27" height="5.800000000000011" fill="#0000cf"/>
<rect x="63.10" y="365.0" width="6.27" height="5.800000000000011" fill="#0000ef"/>
<rect x="68.46" y="365.0" width="6.27" height="5.800000000000011" fill="#0010ff"/>
<rect x="73.83" y="365.0" width="6.27" height="5.800000000000011" fill="#0030ff"/>
<rect x="79.19" y="365.0" width="6.27" height="5.800000000000011" fill="#0050ff"/>
<rect x="84.56" y="365.0" width="6.27" height="5.800000000000011" fill="#0070ff"/>
<rect x="89.92" y="365.0" width="6.27" height="5.800000000000011" fill="#008fff"/>
<rect x="95.29" y="365.0" width="6.27" height="5.800000000000011" fill="#00afff"/>
<rect x="100.66" y="365.0" width="6.27" height="5.800000000000011" fill="#00cfff"/>
<rect x="106.02" y="365.0" width="6.27" height="5.800000000000011" fill="#00efff"/>
<rect x="111.39" y="365.0" width="6.27" height="5.800000000000011" fill="#10ffef"/>
<rect x="116.75" y="365.0" width="6.27" height="5.800000000000011" fill="#30ffcf"/>
<rect x="122.12" y="365.0" width="6.27" height="5.800000000000011" fill="#50ffaf"/>
<rect x="127.48" y="365.0" width="6.27" height="5.800000000000011" fill="#70ff8f"/>
<rect x="132.85" y="365.0" width="6.27" height="5.800000000000011" fill="#8fff70"/>
<rect x="138.22" y="365.0" width="6.27" height="5.800000000000011" fill="#afff50"/>
<rect x="143.58" y="365.0" width="6.27" height="5.800000000000011" fill="#cfff30"/>
<rect x="148.95" y="365.0" width="6.27" height="5.800000000000011" fill="#efff10"/>
<rect x="154.31" y="365.0" width="6.27" height="5.800000000000011" fill="#ffef00"/>
<rect x="159.68" y="365.0" width="6.27" height="5.800000000000011" fill="#ffcf00"/>
<rect x="165.04" y="365.0" width="6.27" height="5.800000000000011" fill="#ffaf00"/>
<rect x="170.41" y="365.0" width="6.27" height="5.800000000000011" fill="#ff8f00"/>
<rect x="175.77" y="365.0" width="6.27" height="5.800000000000011" fill="#ff7000"/>
<rect x="181.14" y="365.0" width="6.27" height="5.800000000000011" fill="#ff5000"/>
<rect x="186.51" y="365.0" width="6.27" height="5.800000000000011" fill="#ff3000"/>
<rect x="191.87" y="365.0" width="6.27" height="5.800000000000011" fill="#ff1000"/>
<rect x="197.24" y="365.0" width="6.27" height="5.800000000000011" fill="#ef0000"/>
<rect x="202.60" y="365.0" width="6.27" height="5.800000000000011" fill="#cf0000"/>
<rect x="207.97" y="365.0" width="6.27" height="5.800000000000011" fill="#af0000"/>
<rect x="213.33" y="365.0" width="5.37" height="5.800000000000011" fill="#8f0000"/>
<rect x="47.0" y="365.0" width="171.70" height="5.80" fill="none" stroke="#000" stroke-width="1"/>
<text x="47.00" y="381.1" font-family="Liberation Serif" font-size="9" text-anchor="middle" fill="#000">−14.0</text>
<path d="M81.34,370.8 V367.8" stroke="#000" stroke-width="1"/>
<text x="81.34" y="381.1" font-family="Liberation Serif" font-size="9" text-anchor="middle" fill="#000">−11.2</text>
<path d="M115.68,370.8 V367.8" stroke="#000" stroke-width="1"/>
<text x="115.68" y="381.1" font-family="Liberation Serif" font-size="9" text-anchor="middle" fill="#000">−8.4</text>
<path d="M150.02,370.8 V367.8" stroke="#000" stroke-width="1"/>
<text x="150.02" y="381.1" font-family="Liberation Serif" font-size="9" text-anchor="middle" fill="#000">−5.6</text>
<path d="M184.36,370.8 V367.8" stroke="#000" stroke-width="1"/>
<text x="184.36" y="381.1" font-family="Liberation Serif" font-size="9" text-anchor="middle" fill="#000">−2.8</text>
<text x="218.70" y="381.1" font-family="Liberation Serif" font-size="9" text-anchor="middle" fill="#000">0.0</text>
<text x="8.9" y="371.9" font-family="Liberation Serif" font-size="9" fill="#000">δ<tspan font-size="5.5" dy="-3.5">18</tspan><tspan dy="3.5">O (‰)</tspan></text>
<path d="M279.90,45.50 H337.60" stroke="#000" stroke-width="1.2"/>
<path d="M276.60,49.70 H298.80" stroke="#000" stroke-width="1.2"/>
<path d="M270.00,53.90 H293.20" stroke="#000" stroke-width="1.2"/>
<path d="M260.00,58.10 H286.60" stroke="#000" stroke-width="1.2"/>
<path d="M267.70,62.30 H275.50" stroke="#000" stroke-width="1.2"/>
<path d="M265.50,66.50 H276.60" stroke="#000" stroke-width="1.2"/>
<path d="M263.30,70.70 H277.70" stroke="#000" stroke-width="1.2"/>
<path d="M256.00,74.90 H276.60" stroke="#000" stroke-width="1.2"/>
<path d="M258.80,79.10 H271.00" stroke="#000" stroke-width="1.2"/>
<path d="M257.30,87.50 H270.00" stroke="#000" stroke-width="1.2"/>
<path d="M261.50,95.90 H266.50" stroke="#000" stroke-width="1.2"/>
<path d="M260.40,104.30 H269.30" stroke="#000" stroke-width="1.2"/>
<path d="M264.80,112.70 H270.00" stroke="#000" stroke-width="1.2"/>
<path d="M266.20,121.10 H272.10" stroke="#000" stroke-width="1.2"/>
<path d="M259.50,129.50 H268.80" stroke="#000" stroke-width="1.2"/>
<path d="M263.30,137.90 H268.80" stroke="#000" stroke-width="1.2"/>
<path d="M261.00,146.30 H268.40" stroke="#000" stroke-width="1.2"/>
<path d="M258.20,154.70 H269.30" stroke="#000" stroke-width="1.2"/>
<path d="M258.20,163.10 H267.00" stroke="#000" stroke-width="1.2"/>
<path d="M257.70,171.50 H266.60" stroke="#000" stroke-width="1.2"/>
<path d="M260.00,179.90 H267.00" stroke="#000" stroke-width="1.2"/>
<path d="M255.50,188.30 H270.00" stroke="#000" stroke-width="1.2"/>
<path d="M257.30,196.70 H270.60" stroke="#000" stroke-width="1.2"/>
<path d="M255.50,205.10 H270.00" stroke="#000" stroke-width="1.2"/>
<path d="M257.30,213.50 H270.60" stroke="#000" stroke-width="1.2"/>
<path d="M258.80,221.90 H268.80" stroke="#000" stroke-width="1.2"/>
<path d="M261.00,230.30 H271.00" stroke="#000" stroke-width="1.2"/>
<path d="M258.80,242.90 H269.30" stroke="#000" stroke-width="1.2"/>
<path d="M259.50,255.50 H268.40" stroke="#000" stroke-width="1.2"/>
<path d="M256.00,268.10 H265.50" stroke="#000" stroke-width="1.2"/>
<path d="M250.00,280.70 H264.40" stroke="#000" stroke-width="1.2"/>
<path d="M251.00,293.30 H267.00" stroke="#000" stroke-width="1.2"/>
<path d="M252.90,305.90 H266.60" stroke="#000" stroke-width="1.2"/>
<path d="M261.00,318.50 H267.70" stroke="#000" stroke-width="1.2"/>
<path d="M253.30,331.10 H272.20" stroke="#000" stroke-width="1.2"/>
<path d="M253.70,343.70 H266.20" stroke="#000" stroke-width="1.2"/>
<path d="M250.60,356.30 H264.00" stroke="#000" stroke-width="1.2"/>
<polyline points="308.70,45.50 287.70,49.70 281.00,53.90 273.30,58.10 271.70,62.30 271.00,66.50 270.00,70.70 266.20,74.90 266.00,79.10 263.30,87.50 264.00,95.90 264.80,104.30 267.00,112.70 268.80,121.10 263.30,129.50 266.20,137.90 264.80,146.30 263.30,154.70 262.20,163.10 261.70,171.50 262.80,179.90 262.80,188.30 264.00,196.70 262.80,205.10 264.00,213.50 264.00,221.90 266.00,230.30 264.40,242.90 263.30,255.50 260.40,268.10 257.30,280.70 258.80,293.30 260.00,305.90 264.00,318.50 262.20,331.10 259.50,343.70 257.30,356.30" fill="none" stroke="#000" stroke-width="1.3"/>
<rect x="306.30" y="43.10" width="4.8" height="4.8" fill="#000"/>
<rect x="285.30" y="47.30" width="4.8" height="4.8" fill="#000"/>
<rect x="278.60" y="51.50" width="4.8" height="4.8" fill="#000"/>
<rect x="270.90" y="55.70" width="4.8" height="4.8" fill="#000"/>
<rect x="269.30" y="59.90" width="4.8" height="4.8" fill="#000"/>
<rect x="268.60" y="64.10" width="4.8" height="4.8" fill="#000"/>
<rect x="267.60" y="68.30" width="4.8" height="4.8" fill="#000"/>
<rect x="263.80" y="72.50" width="4.8" height="4.8" fill="#000"/>
<rect x="263.60" y="76.70" width="4.8" height="4.8" fill="#000"/>
<rect x="260.90" y="85.10" width="4.8" height="4.8" fill="#000"/>
<rect x="261.60" y="93.50" width="4.8" height="4.8" fill="#000"/>
<rect x="262.40" y="101.90" width="4.8" height="4.8" fill="#000"/>
<rect x="264.60" y="110.30" width="4.8" height="4.8" fill="#000"/>
<rect x="266.40" y="118.70" width="4.8" height="4.8" fill="#000"/>
<rect x="260.90" y="127.10" width="4.8" height="4.8" fill="#000"/>
<rect x="263.80" y="135.50" width="4.8" height="4.8" fill="#000"/>
<rect x="262.40" y="143.90" width="4.8" height="4.8" fill="#000"/>
<rect x="260.90" y="152.30" width="4.8" height="4.8" fill="#000"/>
<rect x="259.80" y="160.70" width="4.8" height="4.8" fill="#000"/>
<rect x="259.30" y="169.10" width="4.8" height="4.8" fill="#000"/>
<rect x="260.40" y="177.50" width="4.8" height="4.8" fill="#000"/>
<rect x="260.40" y="185.90" width="4.8" height="4.8" fill="#000"/>
<rect x="261.60" y="194.30" width="4.8" height="4.8" fill="#000"/>
<rect x="260.40" y="202.70" width="4.8" height="4.8" fill="#000"/>
<rect x="261.60" y="211.10" width="4.8" height="4.8" fill="#000"/>
<rect x="261.60" y="219.50" width="4.8" height="4.8" fill="#000"/>
<rect x="263.60" y="227.90" width="4.8" height="4.8" fill="#000"/>
<rect x="262.00" y="240.50" width="4.8" height="4.8" fill="#000"/>
<rect x="260.90" y="253.10" width="4.8" height="4.8" fill="#000"/>
<rect x="258.00" y="265.70" width="4.8" height="4.8" fill="#000"/>
<rect x="254.90" y="278.30" width="4.8" height="4.8" fill="#000"/>
<rect x="256.40" y="290.90" width="4.8" height="4.8" fill="#000"/>
<rect x="257.60" y="303.50" width="4.8" height="4.8" fill="#000"/>
<rect x="261.60" y="316.10" width="4.8" height="4.8" fill="#000"/>
<rect x="259.80" y="328.70" width="4.8" height="4.8" fill="#000"/>
<rect x="257.10" y="341.30" width="4.8" height="4.8" fill="#000"/>
<rect x="254.90" y="353.90" width="4.8" height="4.8" fill="#000"/>
<polyline points="284.30,45.50 339.10,49.70 339.60,53.90 339.10,58.10 352.10,62.30 351.00,66.50 348.70,70.70 344.10,74.90 348.70,79.10 351.00,87.50 354.60,95.90 353.10,104.30 354.20,112.70 354.90,121.10 352.60,129.50 354.20,137.90 353.50,146.30 350.60,154.70 353.50,163.10 353.10,171.50 353.50,179.90 349.30,188.30 349.80,196.70 349.30,205.10 350.20,213.50 352.00,221.90 352.00,230.30 351.50,242.90 353.30,255.50 352.60,268.10 349.80,280.70 348.60,293.30 349.80,305.90 353.50,318.50 346.40,331.10 350.90,343.70 350.40,356.30" fill="none" stroke="#ff0000" stroke-width="1.3"/>
<rect x="282.00" y="43.20" width="4.6" height="4.6" fill="#ff0000"/>
<rect x="336.80" y="47.40" width="4.6" height="4.6" fill="#ff0000"/>
<rect x="337.30" y="51.60" width="4.6" height="4.6" fill="#ff0000"/>
<rect x="336.80" y="55.80" width="4.6" height="4.6" fill="#ff0000"/>
<rect x="349.80" y="60.00" width="4.6" height="4.6" fill="#ff0000"/>
<rect x="348.70" y="64.20" width="4.6" height="4.6" fill="#ff0000"/>
<rect x="346.40" y="68.40" width="4.6" height="4.6" fill="#ff0000"/>
<rect x="341.80" y="72.60" width="4.6" height="4.6" fill="#ff0000"/>
<rect x="346.40" y="76.80" width="4.6" height="4.6" fill="#ff0000"/>
<rect x="348.70" y="85.20" width="4.6" height="4.6" fill="#ff0000"/>
<rect x="352.30" y="93.60" width="4.6" height="4.6" fill="#ff0000"/>
<rect x="350.80" y="102.00" width="4.6" height="4.6" fill="#ff0000"/>
<rect x="351.90" y="110.40" width="4.6" height="4.6" fill="#ff0000"/>
<rect x="352.60" y="118.80" width="4.6" height="4.6" fill="#ff0000"/>
<rect x="350.30" y="127.20" width="4.6" height="4.6" fill="#ff0000"/>
<rect x="351.90" y="135.60" width="4.6" height="4.6" fill="#ff0000"/>
<rect x="351.20" y="144.00" width="4.6" height="4.6" fill="#ff0000"/>
<rect x="348.30" y="152.40" width="4.6" height="4.6" fill="#ff0000"/>
<rect x="351.20" y="160.80" width="4.6" height="4.6" fill="#ff0000"/>
<rect x="350.80" y="169.20" width="4.6" height="4.6" fill="#ff0000"/>
<rect x="351.20" y="177.60" width="4.6" height="4.6" fill="#ff0000"/>
<rect x="347.00" y="186.00" width="4.6" height="4.6" fill="#ff0000"/>
<rect x="347.50" y="194.40" width="4.6" height="4.6" fill="#ff0000"/>
<rect x="347.00" y="202.80" width="4.6" height="4.6" fill="#ff0000"/>
<rect x="347.90" y="211.20" width="4.6" height="4.6" fill="#ff0000"/>
<rect x="349.70" y="219.60" width="4.6" height="4.6" fill="#ff0000"/>
<rect x="349.70" y="228.00" width="4.6" height="4.6" fill="#ff0000"/>
<rect x="349.20" y="240.60" width="4.6" height="4.6" fill="#ff0000"/>
<rect x="351.00" y="253.20" width="4.6" height="4.6" fill="#ff0000"/>
<rect x="350.30" y="265.80" width="4.6" height="4.6" fill="#ff0000"/>
<rect x="347.50" y="278.40" width="4.6" height="4.6" fill="#ff0000"/>
<rect x="346.30" y="291.00" width="4.6" height="4.6" fill="#ff0000"/>
<rect x="347.50" y="303.60" width="4.6" height="4.6" fill="#ff0000"/>
<rect x="351.20" y="316.20" width="4.6" height="4.6" fill="#ff0000"/>
<rect x="344.10" y="328.80" width="4.6" height="4.6" fill="#ff0000"/>
<rect x="348.60" y="341.40" width="4.6" height="4.6" fill="#ff0000"/>
<rect x="348.10" y="354.00" width="4.6" height="4.6" fill="#ff0000"/>
<path d="M389.3,41.3 V356.3" stroke="#000" stroke-width="1.2" stroke-dasharray="6 5.2" stroke-dashoffset="-3.3"/>
<path d="M397.60,53.90 C397.78,56.33 398.25,63.62 398.70,68.50 C399.15,73.38 399.45,78.78 400.30,83.20 C401.15,87.62 402.03,91.33 403.80,95.00 C405.57,98.67 408.03,101.23 410.90,105.20 C413.77,109.17 416.43,114.18 421.00,118.80 C425.57,123.42 433.28,128.43 438.30,132.90 C443.32,137.37 447.48,141.78 451.10,145.60 C454.72,149.42 457.88,152.62 460.00,155.80 C462.12,158.98 463.08,162.15 463.80,164.70 C464.52,167.25 464.52,168.98 464.30,171.10 C464.08,173.22 463.65,175.07 462.50,177.40 C461.35,179.73 459.52,182.55 457.40,185.10 C455.28,187.65 452.13,190.18 449.80,192.70 C447.47,195.22 446.58,197.05 443.40,200.20 C440.22,203.35 434.93,207.78 430.70,211.60 C426.47,215.42 421.60,219.48 418.00,223.10 C414.40,226.72 411.57,229.70 409.10,233.30 C406.63,236.90 404.68,240.88 403.20,244.70 C401.72,248.52 401.00,252.17 400.20,256.20 C399.40,260.23 398.83,264.10 398.40,268.90 C397.97,273.70 397.80,278.15 397.60,285.00 C397.40,291.85 397.32,298.80 397.20,310.00 C397.08,321.20 396.95,345.17 396.90,352.20" fill="none" stroke="#ff00ff" stroke-width="1.5"/>
<circle cx="388.1" cy="53.9" r="1.9" fill="#454545"/>
<circle cx="411.5" cy="66.5" r="1.9" fill="#454545"/>
<circle cx="396.6" cy="75.3" r="1.9" fill="#454545"/>
<circle cx="400.7" cy="79.1" r="1.9" fill="#454545"/>
<circle cx="415.4" cy="92.0" r="1.9" fill="#454545"/>
<circle cx="411.3" cy="104.2" r="1.9" fill="#454545"/>
<circle cx="436.7" cy="116.7" r="1.9" fill="#454545"/>
<circle cx="417.5" cy="125.3" r="1.9" fill="#454545"/>
<circle cx="438.8" cy="133.7" r="1.9" fill="#454545"/>
<circle cx="436.3" cy="142.3" r="1.9" fill="#454545"/>
<circle cx="445.0" cy="150.2" r="1.9" fill="#454545"/>
<circle cx="457.7" cy="158.9" r="1.9" fill="#454545"/>
<circle cx="470.1" cy="167.3" r="1.9" fill="#454545"/>
<circle cx="467.9" cy="175.6" r="1.9" fill="#454545"/>
<circle cx="465.8" cy="184.0" r="1.9" fill="#454545"/>
<circle cx="445.0" cy="192.6" r="1.9" fill="#454545"/>
<circle cx="442.9" cy="200.9" r="1.9" fill="#454545"/>
<circle cx="445.0" cy="209.3" r="1.9" fill="#454545"/>
<circle cx="411.6" cy="217.5" r="1.9" fill="#454545"/>
<circle cx="415.4" cy="226.1" r="1.9" fill="#454545"/>
<circle cx="407.3" cy="234.5" r="1.9" fill="#454545"/>
<circle cx="388.2" cy="242.9" r="1.9" fill="#454545"/>
<circle cx="405.3" cy="251.3" r="1.9" fill="#454545"/>
<circle cx="411.6" cy="264.0" r="1.9" fill="#454545"/>
<circle cx="379.8" cy="284.8" r="1.9" fill="#454545"/>
<circle cx="400.9" cy="301.8" r="1.9" fill="#454545"/>
<circle cx="392.5" cy="318.6" r="1.9" fill="#454545"/>
<circle cx="400.9" cy="335.4" r="1.9" fill="#454545"/>
<circle cx="396.9" cy="352.2" r="1.9" fill="#454545"/>
<text x="508.4" y="64.5" font-family="Liberation Serif" font-size="10.3" text-anchor="middle" fill="#000">0~1</text>
<text x="510" y="130" font-family="Liberation Serif" font-size="10.3" text-anchor="middle" fill="#000">1~53</text>
<text x="510.7" y="260.8" font-family="Liberation Serif" font-size="10.3" text-anchor="middle" fill="#000">&gt;53</text>
<text x="533.4" y="64.4" font-family="Liberation Serif" font-size="10.3" fill="#000">L1</text>
<text x="533.4" y="129.7" font-family="Liberation Serif" font-size="10.3" fill="#000">L2</text>
<text x="533.4" y="260.4" font-family="Liberation Serif" font-size="10.3" fill="#000">L3</text>
<circle cx="379.6" cy="367.4" r="1.6" fill="#404040"/>
<text x="395.5" y="371" font-family="Liberation Serif" font-size="11.2" fill="#000">Observed data</text>
<path d="M366.9,381.2 H392.4" stroke="#ff00ff" stroke-width="1.5"/>
<text x="395.5" y="385" font-family="Liberation Serif" font-size="11.2" fill="#000">Fitted line</text>
<text x="511" y="371" font-family="Liberation Serif" font-size="11.2" text-anchor="middle" fill="#000">Residence time</text>
<text x="510.5" y="385" font-family="Liberation Serif" font-size="11.2" text-anchor="middle" fill="#000">[year]</text>
</svg>
</body></html>
